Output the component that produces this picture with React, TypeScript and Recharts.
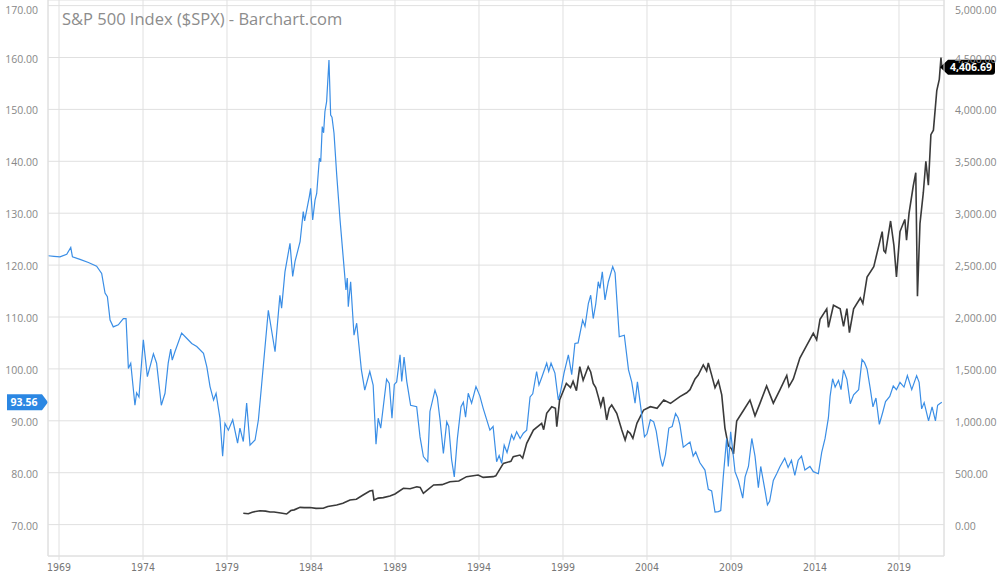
import React from "react";
import {
  ComposedChart,
  Line,
  XAxis,
  YAxis,
  CartesianGrid,
  ReferenceLine,
} from "recharts";

// ─── Data ─────────────────────────────────────────────────────────────────────

// US dollar index, left axis: [decimal year, value]
const DOLLAR_POINTS: [number, number][] = [
  [1968.36, 121.8], [1968.7, 121.7], [1969.06, 121.6], [1969.46, 122.1], [1969.7, 123.4],
  [1969.8, 121.6], [1970.25, 121.1], [1970.75, 120.5], [1971.24, 119.8], [1971.54, 118.4],
  [1971.74, 114.6], [1971.88, 113.9], [1972.04, 109.4], [1972.23, 108.1], [1972.53, 108.5],
  [1972.83, 109.7], [1972.99, 109.7], [1973.13, 100.1], [1973.27, 101.1], [1973.52, 93.0],
  [1973.62, 95.4], [1973.76, 94.6], [1974.02, 105.6], [1974.26, 98.5], [1974.62, 102.9],
  [1974.81, 101.1], [1975.09, 93.0], [1975.31, 95.3], [1975.5, 101.1], [1975.65, 103.8],
  [1975.74, 101.7], [1975.9, 103.3], [1976.3, 106.9], [1976.6, 105.9], [1976.9, 104.9],
  [1977.2, 104.3], [1977.6, 103.0], [1977.8, 100.4], [1977.99, 96.6], [1978.2, 94.0],
  [1978.35, 95.3], [1978.58, 90.5], [1978.74, 83.2], [1978.88, 89.5], [1979.08, 88.2],
  [1979.34, 90.2], [1979.63, 85.7], [1979.77, 88.6], [1979.97, 86.0], [1980.17, 93.4],
  [1980.37, 85.3], [1980.67, 86.3], [1980.87, 90.2], [1981.06, 96.9], [1981.46, 111.3],
  [1981.86, 103.3], [1982.15, 114.2], [1982.25, 111.7], [1982.45, 118.7], [1982.75, 124.2],
  [1982.91, 117.8], [1983.05, 120.7], [1983.35, 124.5], [1983.54, 130.3], [1983.62, 128.5],
  [1983.9, 133.2], [1983.98, 134.8], [1984.1, 128.7], [1984.24, 132.5], [1984.34, 133.8],
  [1984.5, 140.6], [1984.58, 139.9], [1984.67, 146.7], [1984.75, 145.5], [1984.83, 149.6],
  [1984.93, 151.5], [1985.07, 159.5], [1985.17, 148.9], [1985.25, 148.5], [1985.37, 145.4],
  [1985.53, 137.4], [1985.73, 128.7], [1985.93, 121.0], [1986.08, 115.2], [1986.16, 117.5],
  [1986.22, 112.0], [1986.36, 116.8], [1986.56, 106.5], [1986.72, 108.8], [1987.0, 99.8],
  [1987.2, 95.9], [1987.5, 99.5], [1987.7, 96.9], [1987.87, 85.5], [1988.0, 90.5],
  [1988.15, 88.6], [1988.5, 98.0], [1988.66, 97.2], [1988.82, 90.5], [1988.96, 97.0],
  [1989.1, 97.5], [1989.3, 102.7], [1989.4, 97.6], [1989.54, 102.3], [1989.7, 97.6],
  [1989.93, 93.0], [1990.29, 92.7], [1990.49, 86.9], [1990.69, 83.1], [1990.95, 82.1],
  [1991.08, 91.8], [1991.38, 95.9], [1991.52, 94.5], [1991.68, 90.2], [1991.88, 83.7],
  [1992.08, 89.8], [1992.2, 88.9], [1992.37, 82.5], [1992.53, 79.2], [1992.71, 86.5],
  [1992.93, 92.7], [1993.07, 93.6], [1993.2, 90.7], [1993.36, 95.3], [1993.56, 93.4],
  [1993.82, 96.6], [1994.05, 94.8], [1994.25, 92.4], [1994.65, 88.2], [1994.84, 88.9],
  [1995.05, 82.1], [1995.2, 83.3], [1995.35, 81.8], [1995.5, 85.3], [1995.67, 83.9],
  [1995.94, 87.3], [1996.07, 86.4], [1996.24, 87.9], [1996.45, 86.6], [1996.64, 87.6],
  [1996.84, 88.2], [1997.04, 94.6], [1997.2, 95.2], [1997.43, 99.5], [1997.57, 96.9],
  [1997.75, 98.5], [1998.03, 101.1], [1998.15, 99.5], [1998.29, 101.1], [1998.52, 99.2],
  [1998.72, 94.0], [1998.85, 95.5], [1999.06, 99.2], [1999.32, 102.7], [1999.52, 98.9],
  [1999.71, 104.9], [1999.9, 105.0], [2000.17, 109.4], [2000.31, 108.2], [2000.51, 112.6],
  [2000.65, 114.2], [2000.8, 109.7], [2000.95, 112.5], [2001.1, 116.8], [2001.2, 115.5],
  [2001.34, 118.7], [2001.5, 113.3], [2001.7, 116.8], [2001.96, 119.7], [2002.1, 118.5],
  [2002.35, 106.2], [2002.65, 106.5], [2002.9, 99.8], [2003.09, 97.5], [2003.29, 93.4],
  [2003.43, 97.5], [2003.65, 92.1], [2003.85, 86.9], [2004.0, 87.5], [2004.2, 90.2],
  [2004.4, 89.8], [2004.55, 88.0], [2004.8, 82.8], [2004.93, 81.2], [2005.1, 83.5],
  [2005.3, 88.6], [2005.5, 88.9], [2005.7, 91.4], [2005.85, 90.6], [2005.96, 89.2],
  [2006.16, 84.9], [2006.56, 85.9], [2006.75, 83.2], [2006.9, 84.0], [2007.15, 81.9],
  [2007.45, 80.5], [2007.65, 76.8], [2007.85, 76.5], [2008.05, 72.4], [2008.25, 72.5],
  [2008.39, 72.7], [2008.54, 79.2], [2008.74, 86.6], [2008.84, 81.2], [2008.98, 87.9],
  [2009.14, 83.2], [2009.24, 80.2], [2009.44, 78.5], [2009.7, 75.1], [2009.84, 79.2],
  [2010.04, 81.2], [2010.24, 86.6], [2010.43, 83.2], [2010.63, 77.1], [2010.77, 81.2],
  [2011.03, 76.5], [2011.17, 73.8], [2011.3, 74.5], [2011.52, 78.5], [2011.72, 79.8],
  [2011.92, 81.2], [2012.2, 82.8], [2012.4, 81.0], [2012.6, 82.4], [2012.8, 79.5],
  [2013.0, 82.4], [2013.2, 83.2], [2013.4, 80.5], [2013.7, 81.2], [2013.9, 80.2],
  [2014.2, 79.8], [2014.4, 83.9], [2014.6, 86.6], [2014.8, 90.6], [2014.9, 94.7],
  [2015.05, 98.1], [2015.2, 96.5], [2015.4, 97.8], [2015.55, 96.0], [2015.7, 99.8],
  [2015.9, 98.0], [2016.1, 93.3], [2016.3, 95.0], [2016.6, 96.0], [2016.8, 101.8],
  [2016.95, 101.2], [2017.1, 100.0], [2017.3, 96.0], [2017.45, 92.7], [2017.63, 94.4],
  [2017.83, 89.3], [2018.03, 91.6], [2018.2, 93.7], [2018.45, 94.7], [2018.66, 96.7],
  [2018.85, 96.0], [2019.06, 97.4], [2019.3, 96.5], [2019.5, 98.7], [2019.76, 96.0],
  [2020.05, 98.7], [2020.2, 97.4], [2020.35, 92.3], [2020.5, 93.5], [2020.76, 90.0],
  [2020.97, 92.7], [2021.17, 90.0], [2021.3, 93.0], [2021.42, 93.3], [2021.55, 93.56],
];

// S&P 500 index, right axis: [decimal year, value]
const SPX_POINTS: [number, number][] = [
  [1979.97, 109], [1980.27, 104], [1980.5, 120], [1980.96, 134], [1981.3, 130],
  [1981.56, 121], [1981.8, 122], [1982.2, 112], [1982.55, 102], [1982.8, 135],
  [1983.0, 142], [1983.35, 166], [1983.6, 164], [1983.94, 164], [1984.3, 156],
  [1984.73, 157], [1985.0, 175], [1985.53, 189], [1985.9, 205], [1986.32, 237],
  [1986.7, 245], [1987.1, 285], [1987.5, 324], [1987.67, 330], [1987.75, 237],
  [1988.0, 255], [1988.3, 260], [1988.7, 275], [1989.0, 295], [1989.5, 350],
  [1989.9, 345], [1990.3, 365], [1990.5, 358], [1990.69, 301], [1990.9, 330],
  [1991.3, 382], [1991.8, 385], [1992.27, 413], [1992.8, 420], [1993.26, 462],
  [1993.95, 478], [1994.25, 455], [1994.85, 462], [1995.0, 470], [1995.45, 590],
  [1995.9, 610], [1996.04, 654], [1996.44, 670], [1996.6, 640], [1996.84, 783],
  [1997.24, 911], [1997.73, 976], [1997.85, 914], [1998.03, 1072], [1998.33, 1136],
  [1998.55, 1120], [1998.63, 943], [1998.8, 1200], [1999.2, 1361], [1999.45, 1320],
  [1999.6, 1380], [1999.8, 1290], [2000.0, 1521], [2000.2, 1390], [2000.5, 1521],
  [2000.65, 1470], [2000.8, 1361], [2000.95, 1320], [2001.1, 1233], [2001.25, 1140],
  [2001.4, 1230], [2001.6, 1008], [2001.75, 1120], [2001.9, 1152], [2002.2, 1072],
  [2002.5, 911], [2002.7, 815], [2002.85, 900], [2003.0, 879], [2003.16, 831],
  [2003.4, 976], [2003.8, 1104], [2004.2, 1136], [2004.6, 1120], [2005.0, 1200],
  [2005.4, 1168], [2005.96, 1233], [2006.36, 1270], [2006.56, 1300], [2006.86, 1403],
  [2007.05, 1440], [2007.35, 1538], [2007.55, 1480], [2007.65, 1557], [2007.85, 1440],
  [2008.05, 1319], [2008.25, 1385], [2008.45, 1250], [2008.64, 930], [2008.84, 761],
  [2009.04, 728], [2009.15, 680], [2009.34, 998], [2009.74, 1099], [2010.13, 1200],
  [2010.43, 1048], [2010.73, 1170], [2011.12, 1335], [2011.52, 1170], [2011.92, 1300],
  [2012.32, 1437], [2012.45, 1330], [2012.71, 1403], [2013.1, 1605], [2013.5, 1724],
  [2013.9, 1843], [2014.1, 1780], [2014.3, 1977], [2014.7, 2079], [2014.8, 1900],
  [2015.1, 2113], [2015.5, 2079], [2015.7, 1910], [2015.9, 2080], [2016.05, 1850],
  [2016.3, 2079], [2016.7, 2183], [2016.85, 2130], [2017.1, 2385], [2017.5, 2485],
  [2017.8, 2688], [2018.0, 2822], [2018.1, 2640], [2018.2, 2620], [2018.5, 2925],
  [2018.7, 2688], [2018.85, 2385], [2019.06, 2823], [2019.35, 2940], [2019.45, 2740],
  [2019.6, 3000], [2019.85, 3262], [2020.0, 3390], [2020.1, 2200], [2020.25, 2900],
  [2020.45, 3200], [2020.6, 3500], [2020.75, 3270], [2020.9, 3756], [2021.05, 3800],
  [2021.25, 4181], [2021.4, 4290], [2021.5, 4500], [2021.55, 4406.69],
];

const YEAR_TICKS = [1969, 1974, 1979, 1984, 1989, 1994, 1999, 2004, 2009, 2014, 2019];
const LEFT_TICKS = [70, 80, 90, 100, 110, 120, 130, 140, 150, 160, 170];
const RIGHT_TICKS = [0, 500, 1000, 1500, 2000, 2500, 3000, 3500, 4000, 4500, 5000];

const LAST_DOLLAR = 93.56;
const LAST_SPX = 4406.69;

const dollarData = DOLLAR_POINTS.map(([t, v]) => ({ t, v }));
const spxData = SPX_POINTS.map(([t, v]) => ({ t, v }));

// ─── Styling ──────────────────────────────────────────────────────────────────

const GRID = "#e0e0e0";
const TICK_FONT = "'Open Sans', sans-serif";
const BLUE = "#3a8ee6";
const BLACK = "#3a3a3a";

const fmt2 = (v: number) =>
  v.toLocaleString("en-US", { minimumFractionDigits: 2, maximumFractionDigits: 2 });

// ─── Axis ticks (keep the top label inside the picture) ───────────────────────

function ValueTick({ x, y, payload, anchor }: any) {
  const ty = Math.max(y + 1, 10);
  return (
    <text
      x={x}
      y={ty}
      textAnchor={anchor}
      dominantBaseline="central"
      style={{ fill: "#888", fontSize: 10.5, fontFamily: TICK_FONT }}
    >
      {fmt2(payload.value)}
    </text>
  );
}

// ─── Price badges ─────────────────────────────────────────────────────────────

function LeftBadge(props: any) {
  const vb = props.viewBox || {};
  const x = vb.x as number;
  const y = vb.y as number;
  const h = 16;
  return (
    <g>
      <path
        d={`M${x - 41},${y - h / 2} L${x - 6},${y - h / 2} L${x},${y} L${x - 6},${y + h / 2} L${x - 41},${y + h / 2} Z`}
        fill="#2b87e3"
      />
      <text
        x={x - 24}
        y={y}
        textAnchor="middle"
        dominantBaseline="central"
        style={{ fontFamily: TICK_FONT, fontSize: 10.5, fontWeight: 700, fill: "#fff" }}
      >
        {fmt2(LAST_DOLLAR)}
      </text>
    </g>
  );
}

function RightBadge(props: any) {
  const vb = props.viewBox || {};
  const x = (vb.x as number) + (vb.width as number) - 4;
  const y = vb.y as number;
  const h = 15;
  return (
    <g>
      <path
        d={`M${x},${y} L${x + 8},${y - h / 2} L${x + 52},${y - h / 2} Q${x + 55},${y - h / 2} ${x + 55},${y - h / 2 + 3} L${x + 55},${y + h / 2 - 3} Q${x + 55},${y + h / 2} ${x + 52},${y + h / 2} L${x + 8},${y + h / 2} Z`}
        fill="#000"
      />
      <text
        x={x + 31}
        y={y}
        textAnchor="middle"
        dominantBaseline="central"
        style={{ fontFamily: TICK_FONT, fontSize: 10.5, fontWeight: 700, fill: "#fff" }}
      >
        {fmt2(LAST_SPX)}
      </text>
    </g>
  );
}

// ─── Component ────────────────────────────────────────────────────────────────

export default function App() {
  return (
    <div style={{ position: "absolute", left: 0, top: 0, width: 1000, height: 580, background: "#fff" }}>
      <ComposedChart
        width={1000}
        height={580}
        margin={{ top: 0, right: 0, bottom: 0, left: 0 }}
      >
        <CartesianGrid yAxisId="left" stroke={GRID} strokeWidth={1} />
        <XAxis
          type="number"
          dataKey="t"
          domain={[1968.345, 2021.68]}
          ticks={YEAR_TICKS}
          allowDataOverflow
          height={24}
          stroke={GRID}
          tickLine={{ stroke: GRID }}
          tickSize={4}
          tickMargin={4}
          tick={{ fill: "#777", fontSize: 10.5, fontFamily: "'Liberation Sans Narrow', 'DejaVu Sans Condensed', sans-serif" }}
        />
        <YAxis
          yAxisId="left"
          orientation="left"
          type="number"
          domain={[63.95, 171.08]}
          ticks={LEFT_TICKS}
          allowDataOverflow
          width={48}
          stroke={GRID}
          tickLine={false}
          tickSize={6}
          tickMargin={4}
          tick={<ValueTick anchor="end" />}
        />
        <YAxis
          yAxisId="right"
          orientation="right"
          type="number"
          domain={[-302.5, 5054]}
          ticks={RIGHT_TICKS}
          allowDataOverflow
          width={56}
          stroke={GRID}
          tickLine={false}
          tickSize={6}
          tickMargin={5}
          tick={<ValueTick anchor="start" />}
        />
        <Line
          yAxisId="right"
          data={spxData}
          dataKey="v"
          type="linear"
          stroke={BLACK}
          strokeWidth={1.6}
          dot={false}
          isAnimationActive={false}
        />
        <Line
          yAxisId="left"
          data={dollarData}
          dataKey="v"
          type="linear"
          stroke={BLUE}
          strokeWidth={1.2}
          dot={false}
          isAnimationActive={false}
        />
        <ReferenceLine yAxisId="left" y={LAST_DOLLAR} stroke="none" label={<LeftBadge />} />
        <ReferenceLine yAxisId="right" y={LAST_SPX} stroke="none" label={<RightBadge />} />
      </ComposedChart>
      <div
        style={{
          position: "absolute",
          left: 62,
          top: 8,
          fontFamily: TICK_FONT,
          fontSize: 16.5,
          color: "#8c8c8c",
          lineHeight: "22px",
          whiteSpace: "nowrap",
        }}
      >
        S&amp;P 500 Index ($SPX) - Barchart.com
      </div>
    </div>
  );
}
